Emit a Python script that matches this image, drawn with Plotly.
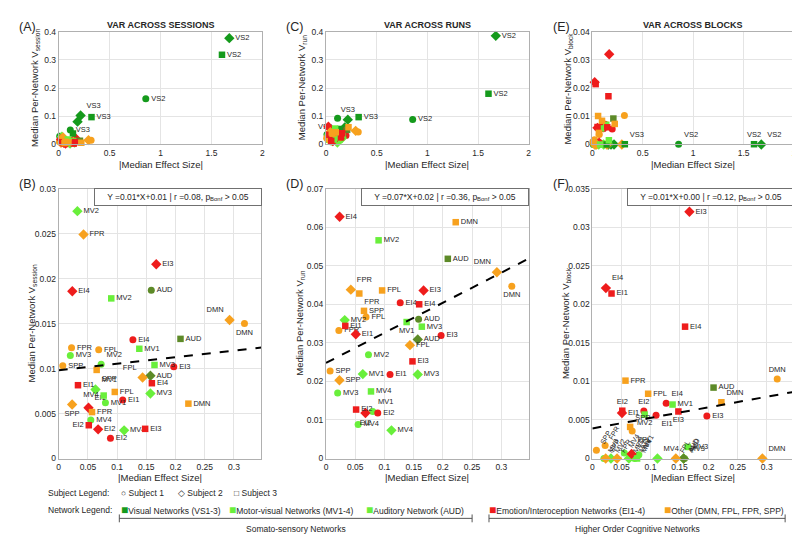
import plotly.graph_objects as go

# ---------------- data ----------------
networks = ["VS1", "VS2", "VS3", "MV1", "MV2", "MV3", "MV4", "AUD",
            "EI1", "EI2", "EI3", "EI4", "DMN", "FPL", "FPR", "SPP"]
network_family = ["VS", "VS", "VS", "MV", "MV", "MV", "MV", "AUD",
                  "EI", "EI", "EI", "EI", "OTH", "OTH", "OTH", "OTH"]
subjects = ["Subject 1", "Subject 2", "Subject 3"]

# |median effect size| per network, one list per subject
effect_s1 = [0.010, 0.855, 0.114, 0.080, 0.0727, 0.0199, 0.055, 0.1585, 0.1096, 0.0886, 0.197, 0.127, 0.318, 0.0685, 0.022, 0.007]
effect_s2 = [0.185, 1.675, 0.215, 0.063, 0.032, 0.157, 0.112, 0.157, 0.051, 0.0675, 0.167, 0.0233, 0.2925, 0.1436, 0.0425, 0.023]
effect_s3 = [0.140, 1.603, 0.322, 0.138, 0.090, 0.164, 0.077, 0.2085, 0.033, 0.0515, 0.148, 0.1595, 0.222, 0.096, 0.057, 0.065]

# median per-network variance across sessions
vsession_s1 = [0.029, 0.162, 0.051, 0.0062, 0.01047, 0.01145, 0.00429, 0.0187, 0.0065, 0.00226, 0.0102, 0.0132, 0.0150, 0.0121, 0.0123, 0.0103]
vsession_s2 = [0.081, 0.377, 0.103, 0.00767, 0.0275, 0.00723, 0.00313, 0.0092, 0.00564, 0.00324, 0.0216, 0.0186, 0.0154, 0.0090, 0.0249, 0.0060]
vsession_s3 = [0.039, 0.318, 0.097, 0.0122, 0.0178, 0.0104, 0.0070, 0.0133, 0.00815, 0.0037, 0.0033, 0.00837, 0.0061, 0.0074, 0.00516, 0.00985]

# across runs
vrun_s1 = [0.035, 0.089, 0.093, 0.0122, 0.0269, 0.0170, 0.0088, 0.0361, 0.0218, 0.0118, 0.0319, 0.0404, 0.0447, 0.0367, 0.0332, 0.0227]
vrun_s2 = [0.060, 0.385, 0.088, 0.0219, 0.0359, 0.0218, 0.0073, 0.0309, 0.0322, 0.0118, 0.0436, 0.0627, 0.0483, 0.0294, 0.0438, 0.0203]
vrun_s3 = [0.055, 0.180, 0.097, 0.0354, 0.0566, 0.0342, 0.0174, 0.0518, 0.0344, 0.0127, 0.0252, 0.0400, 0.0613, 0.0436, 0.0428, 0.0383]

# across blocks
vblock_s1 = [0.0, 0.0001, 0.0, 0.0005, 0.0, 0.0, 0.0007, 0.0, 0.0056, 0.00615, 0.0055, 0.00717, 0.0103, 0.00356, 0.0017, 0.00106]
vblock_s2 = [0.0, 0.0, 0.0, 0.0, 0.0, 0.0, 0.0, 0.0, 0.0059, 0.0006, 0.0320, 0.0221, 0.0, 0.0, 0.0, 0.0]
vblock_s3 = [0.0, 0.0001, 0.0001, 0.0070, 0.0057, 0.0015, 0.0, 0.0092, 0.0214, 0.0062, 0.0061, 0.0171, 0.0073, 0.0084, 0.0101, 0.0041]

# regression lines in the zoomed panels (B, D, F)
fit_slope = [0.0073, 0.078, 0.0137]
fit_intercept = [0.0098, 0.0248, 0.0039]
fit_slope_label = ["0.01", "0.07", "0.01"]
fit_intercept_label = ["0.01", "0.02", "0.00"]
fit_r_label = ["0.08", "0.36", "0.12"]

# tick values / labels
xticks_top = [0, 0.5, 1, 1.5, 2]
xticklabels_top = ["0", "0.5", "1", "1.5", "2"]
xticks_bottom = [0, 0.05, 0.1, 0.15, 0.2, 0.25, 0.3]
xticklabels_bottom = ["0", "0.05", "0.1", "0.15", "0.2", "0.25", "0.3"]
yticks_big = [0, 0.1, 0.2, 0.3, 0.4]
yticklabels_big = ["0", "0.1", "0.2", "0.3", "0.4"]
yticks_block_top = [0, 0.01, 0.02, 0.03, 0.04]
yticklabels_block_top = ["0", "0.01", "0.02", "0.03", "0.04"]
yticks_session = [0, 0.005, 0.01, 0.015, 0.02, 0.025, 0.03]
yticklabels_session = ["0", "0.005", "0.01", "0.015", "0.02", "0.025", "0.03"]
yticks_run = [0, 0.01, 0.02, 0.03, 0.04, 0.05, 0.06, 0.07]
yticklabels_run = ["0", "0.01", "0.02", "0.03", "0.04", "0.05", "0.06", "0.07"]
yticks_block = [0, 0.005, 0.01, 0.015, 0.02, 0.025, 0.03, 0.035]
yticklabels_block = ["0", "0.005", "0.01", "0.015", "0.02", "0.025", "0.03", "0.035"]

# ---------------- styling ----------------
W, H = 800, 535
TXT = "#262626"
GRID = "#e4e4e4"
BOX = "#b0b0b0"
FONT = "Liberation Sans, Arial, Helvetica, sans-serif"
family_color = {"VS": "#159a1c", "MV": "#69ef3b", "AUD": "#5d8a28", "EI": "#ee1c1c", "OTH": "#f7a11e"}
subject_symbol = ["circle", "diamond", "square"]
subject_size = [7, 8, 6.5]

effects = [effect_s1, effect_s2, effect_s3]
values = {
    "A": [vsession_s1, vsession_s2, vsession_s3],
    "C": [vrun_s1, vrun_s2, vrun_s3],
    "E": [vblock_s1, vblock_s2, vblock_s3],
    "B": [vsession_s1, vsession_s2, vsession_s3],
    "D": [vrun_s1, vrun_s2, vrun_s3],
    "F": [vblock_s1, vblock_s2, vblock_s3],
}

# plot boxes in pixels: left, right, top, bottom
boxes = {"A": (49, 254, 19, 134), "C": (318, 522, 19, 134), "E": (586, 789, 19, 134),
         "B": (49, 253, 179, 454), "D": (318, 522, 179, 454), "F": (586, 789, 179, 454)}
axis_num = {"A": 1, "C": 2, "E": 3, "B": 4, "D": 5, "F": 6}
bottom = {"A": False, "C": False, "E": False, "B": True, "D": True, "F": True}
xrange_ = {False: [0, 2], True: [0, 0.347]}
yspec = {
    "A": ([0, 0.4], yticks_big, yticklabels_big),
    "C": ([0, 0.4], yticks_big, yticklabels_big),
    "E": ([0, 0.04], yticks_block_top, yticklabels_block_top),
    "B": ([0, 0.03], yticks_session, yticklabels_session),
    "D": ([0, 0.07], yticks_run, yticklabels_run),
    "F": ([0, 0.035], yticks_block, yticklabels_block),
}
titles = {"A": "VAR ACROSS SESSIONS", "C": "VAR ACROSS RUNS", "E": "VAR ACROSS BLOCKS"}
ysub = {"A": "session", "B": "session", "C": "run", "D": "run", "E": "block", "F": "block"}

label_pos = {
    "A": {("VS3", 1): "top right"},
    "C": {("VS3", 1): "top center", ("VS3", 0): "bottom left"},
    "E": {("VS2", 0): "top right", ("VS2", 1): "top right", ("VS2", 2): "top center", ("VS3", 2): "top right"},
    "B": {("DMN", 1): "top left", ("DMN", 0): "bottom center", ("FPL", 1): "top left",
          ("SPP", 1): "bottom center", ("MV4", 2): "middle left", ("EI2", 2): "middle left",
          ("MV2", 0): "top right", ("MV1", 1): "top right", ("SPP", 2): "bottom right",
          ("EI1", 1): "top right"},
    "D": {("DMN", 1): "top left", ("DMN", 0): "bottom center", ("FPR", 1): "top right",
          ("FPR", 2): "bottom right", ("MV1", 2): "bottom center", ("MV1", 0): "top right",
          ("EI2", 1): "bottom center"},
    "F": {("EI4", 1): "top right", ("DMN", 2): "top right", ("EI2", 2): "top center",
          ("EI2", 0): "top center", ("MV2", 2): "bottom center", ("EI1", 0): "bottom right",
          ("EI4", 0): "top right", ("EI3", 2): "bottom center", ("SPP", 2): "top right",
          ("FPL", 0): "bottom right", ("MV4", 1): "top right", ("DMN", 1): "top right",
          ("MV3", 2): "middle right", ("MV3", 1): "top right", ("DMN", 0): "top center"},
}
f_horizontal = {("MV4", 1), ("MV3", 2), ("MV3", 1), ("DMN", 1)}


def px(x):
    return x / W


def py(y):
    return 1 - y / H


fig = go.Figure()
annotations = []
layout_axes = {}

for key in ["A", "C", "E", "B", "D", "F"]:
    n = axis_num[key]
    xa = "x" if n == 1 else f"x{n}"
    ya = "y" if n == 1 else f"y{n}"
    is_bottom = bottom[key]
    vals = values[key]
    for s in range(3):
        xs, ys, cols, txt, pos = [], [], [], [], []
        for i, net in enumerate(networks):
            fam = network_family[i]
            if is_bottom and fam == "VS":
                continue
            x = effects[s][i]
            y = vals[s][i]
            xs.append(x)
            ys.append(y)
            cols.append(family_color[fam])
            if key in ("A", "C"):
                show = net in ("VS2", "VS3")
            elif key == "E":
                show = net == "VS2" or (net == "VS3" and s == 2)
            elif key == "F" and y < 0.002 and (net, s) not in f_horizontal:
                show = False
                annotations.append(dict(
                    x=x, y=y, xref=xa, yref=ya, text=net, showarrow=False, textangle=-60,
                    xanchor="left", yanchor="bottom", xshift=0, yshift=2,
                    font=dict(size=7, color=TXT, family=FONT)))
            else:
                show = True
            txt.append(net if show else " ")
            pos.append(label_pos[key].get((net, s), "middle right"))
        fig.add_trace(go.Scatter(
            x=xs, y=ys, mode="markers+text", xaxis=xa, yaxis=ya,
            marker=dict(symbol=subject_symbol[s], size=subject_size[s], color=cols, line=dict(width=0)),
            text=txt, textposition=pos,
            textfont=dict(size=7.5, color=TXT, family=FONT),
            cliponaxis=False, showlegend=False, hoverinfo="skip", name=subjects[s]))

    l, r, t, b = boxes[key]
    yr, yt, ytl = yspec[key]
    xt = xticks_bottom if is_bottom else xticks_top
    xtl = xticklabels_bottom if is_bottom else xticklabels_top
    common = dict(showgrid=True, gridcolor=GRID, gridwidth=1, showline=True, linecolor=BOX,
                  linewidth=1, mirror=True, zeroline=False, ticks="", fixedrange=True,
                  tickfont=dict(size=8.5, color=TXT, family=FONT))
    layout_axes["xaxis" if n == 1 else f"xaxis{n}"] = dict(
        domain=[px(l), px(r)], range=xrange_[is_bottom], tickvals=xt, ticktext=xtl,
        anchor=ya, **common)
    layout_axes["yaxis" if n == 1 else f"yaxis{n}"] = dict(
        domain=[py(b), py(t)], range=yr, tickvals=yt, ticktext=ytl, anchor=xa, **common)

    # axis titles
    annotations.append(dict(
        x=px((l + r) / 2), y=py(b + (20 if not is_bottom else 19)), xref="paper", yref="paper",
        text="|Median Effect Size|", showarrow=False, xanchor="center", yanchor="middle",
        font=dict(size=9.5, color=TXT, family=FONT)))
    annotations.append(dict(
        x=px(l - (24 if not is_bottom else 27)), y=py((t + b) / 2), xref="paper", yref="paper",
        text=f"Median Per-Network V<sub>{ysub[key]}</sub>", showarrow=False, textangle=-90,
        xanchor="center", yanchor="middle", font=dict(size=9.5, color=TXT, family=FONT)))
    # panel letter
    annotations.append(dict(
        x=px(l - 42), y=py(t - 5), xref="paper", yref="paper", text=f"({key})", showarrow=False,
        xanchor="left", yanchor="middle", font=dict(size=12.5, color=TXT, family=FONT)))
    if key in titles:
        annotations.append(dict(
            x=px((l + r) / 2), y=py(12), xref="paper", yref="paper", text=f"<b>{titles[key]}</b>",
            showarrow=False, xanchor="center", yanchor="middle",
            font=dict(size=9, color=TXT, family=FONT)))

# regression lines and equation boxes
for j, key in enumerate(["B", "D", "F"]):
    n = axis_num[key]
    x_line = xrange_[True]
    y_line = [fit_intercept[j] + fit_slope[j] * xv for xv in x_line]
    fig.add_trace(go.Scatter(
        x=x_line, y=y_line, mode="lines", xaxis=f"x{n}", yaxis=f"y{n}",
        line=dict(color="black", width=2, dash="dash"), showlegend=False, hoverinfo="skip"))
    l, r, t, b = boxes[key]
    annotations.append(dict(
        x=px(r - 84), y=py(t + 9), xref="paper", yref="paper", showarrow=False,
        text=f"Y ={fit_slope_label[j]}*X+{fit_intercept_label[j]} | r ={fit_r_label[j]}, p<sub>Bonf</sub> > 0.05",
        xanchor="center", yanchor="middle", width=164, height=14, borderpad=1,
        bordercolor="#707070", borderwidth=1, bgcolor="white",
        font=dict(size=8.5, color=TXT, family=FONT)))

# legends
LEG = dict(size=8.5, color=TXT, family=FONT)
annotations.append(dict(x=px(36), y=py(489), xref="paper", yref="paper", text="Subject Legend:",
                        showarrow=False, xanchor="left", yanchor="middle", font=LEG))
for s, xpos in zip(range(3), [110, 167, 223]):
    sym = ["○", "◇", "□"][s]
    annotations.append(dict(x=px(xpos), y=py(489), xref="paper", yref="paper",
                            text=f"{sym} {subjects[s]}", showarrow=False, xanchor="left",
                            yanchor="middle", font=LEG))
annotations.append(dict(x=px(36), y=py(506), xref="paper", yref="paper", text="Network Legend:",
                        showarrow=False, xanchor="left", yanchor="middle", font=LEG))
net_legend = [("VS", "Visual Networks (VS1-3)", 110),
              ("MV", "Motor-visual Networks (MV1-4)", 218),
              ("MV", "Auditory Network (AUD)", 356),
              ("EI", "Emotion/Interoception Networks (EI1-4)", 480),
              ("OTH", "Other (DMN, FPL, FPR, SPP)", 656)]
for fam, label, xpos in net_legend:
    annotations.append(dict(
        x=px(xpos), y=py(506), xref="paper", yref="paper", showarrow=False,
        text=f"<span style='color:{family_color[fam]};font-size:12px'>■</span>{label}",
        xanchor="left", yanchor="middle", font=LEG))

shapes = []
for x0, x1, label in [(110, 465, "Somato-sensory Networks"), (482, 780, "Higher Order Cognitive Networks")]:
    shapes.append(dict(type="line", xref="paper", yref="paper", x0=px(x0), x1=px(x1),
                       y0=py(515), y1=py(515), line=dict(color="#555555", width=1)))
    for xe in (x0, x1):
        shapes.append(dict(type="line", xref="paper", yref="paper", x0=px(xe), x1=px(xe),
                           y0=py(511), y1=py(519), line=dict(color="#555555", width=1)))
    annotations.append(dict(x=px((x0 + x1) / 2), y=py(526), xref="paper", yref="paper", text=label,
                            showarrow=False, xanchor="center", yanchor="middle", font=LEG))

fig.update_layout(
    width=W, height=H, margin=dict(l=0, r=0, t=0, b=0),
    paper_bgcolor="white", plot_bgcolor="white",
    font=dict(family=FONT, color=TXT),
    annotations=annotations, shapes=shapes, showlegend=False,
    **layout_axes)

fig.write_html("out.html")
